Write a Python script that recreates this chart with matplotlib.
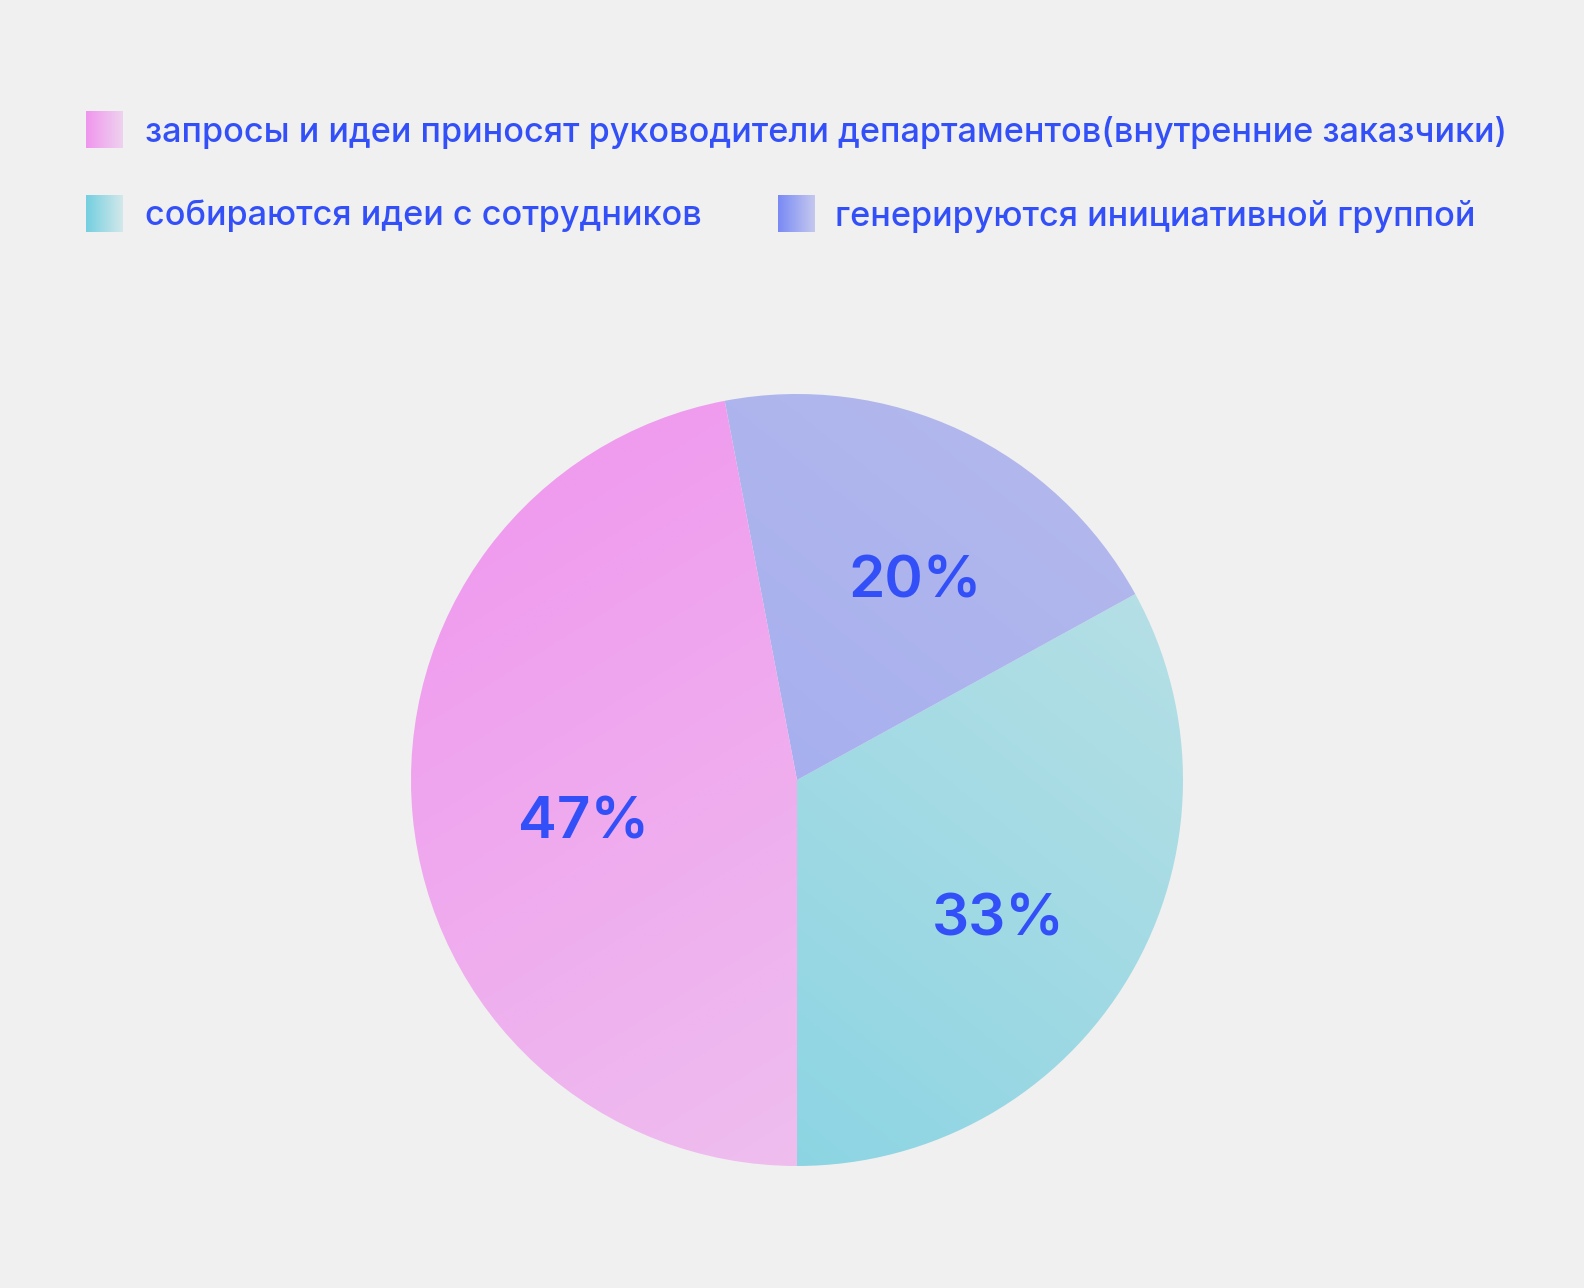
import numpy as np
import matplotlib
matplotlib.use('Agg')
import matplotlib.pyplot as plt
from matplotlib.colors import LinearSegmentedColormap

plt.rcParams['font.family'] = ['Inter', 'DejaVu Sans']

# data
labels = ['запросы и идеи приносят руководители департаментов(внутренние заказчики)',
          'собираются идеи с сотрудников',
          'генерируются инициативной группой']
values = [47, 33, 20]
# gradient colours: (start, end) per slice
grad_pie = [('#F094EE', '#EEC8EE'), ('#7ED1E2', '#C0E2E6'), ('#98A4F1', '#B6BBEC')]
grad_leg = [('#F096EE', '#EED2EE'), ('#74CFE0', '#D2E8EA'), ('#7A8AF5', '#C4C8EE')]
text_col = '#3350F8'
bg = '#F0F0F0'

W, H = 1584, 1288
fig = plt.figure(figsize=(W / 100, H / 100), dpi=100, facecolor=bg)
ax = fig.add_axes([0, 0, 1, 1])
ax.axis('off')

cx, cy, r = 797, H - 780, 386

# pink goes clockwise from bottom; draw cyan, purple, pink counterclockwise from -90
order = [1, 2, 0]
wedges, _ = ax.pie([values[i] for i in order], center=(cx, cy), radius=r,
                   startangle=-90, counterclock=True,
                   wedgeprops=dict(facecolor='none', edgecolor='none'))
ax.set_xlim(0, W)
ax.set_ylim(0, H)
ax.set_aspect('auto')

# gradient direction per slice
dirs = {0: (1, -1.6), 1: (0.8, 1), 2: (0.8, 1)}
# label placement: (fraction of radius, angle shift from wedge middle)
lab_pos = {0: (0.56, 4.5), 1: (0.626, -3.1), 2: (0.61, -4.9)}
n = 300
xs = np.linspace(cx - r, cx + r, n)
ys = np.linspace(cy - r, cy + r, n)
XX, YY = np.meshgrid(xs, ys)
for w, i in zip(wedges, order):
    dx, dy = dirs[i]
    t = (XX - cx) * dx + (YY - cy) * dy
    t = (t - t.min()) / (t.max() - t.min())
    cmap = LinearSegmentedColormap.from_list('g%d' % i, grad_pie[i])
    im = ax.imshow(t, cmap=cmap, extent=(cx - r, cx + r, cy - r, cy + r),
                   origin='lower', interpolation='bilinear', zorder=1, aspect='auto')
    im.set_clip_path(w)
    f, shift = lab_pos[i]
    ang = np.deg2rad((w.theta1 + w.theta2) / 2 + shift)
    ax.text(cx + f * r * np.cos(ang), cy + f * r * np.sin(ang), '%d%%' % values[i],
            color=text_col, fontsize=42, fontweight='semibold',
            ha='center', va='center_baseline', zorder=3)

# legend: (square x, row centre y, text x) in pixels from top-left
leg_pos = [(86, 129, 145), (86, 213, 145), (778, 213, 835)]
sq = 37
gx = np.linspace(0, 1, 64).reshape(1, -1)
for i, (x0, yc, tx) in enumerate(leg_pos):
    cmap = LinearSegmentedColormap.from_list('l%d' % i, grad_leg[i])
    ax.imshow(gx, cmap=cmap, extent=(x0, x0 + sq, H - yc - sq / 2, H - yc + sq / 2),
              origin='lower', aspect='auto', interpolation='bilinear', zorder=2)
    ax.text(tx, H - yc - 3, labels[i], color=text_col, fontsize=24.6, fontweight='medium',
            va='center', ha='left')

ax.set_xlim(0, W)
ax.set_ylim(0, H)
fig.savefig('out.png', dpi=100, facecolor=bg)
